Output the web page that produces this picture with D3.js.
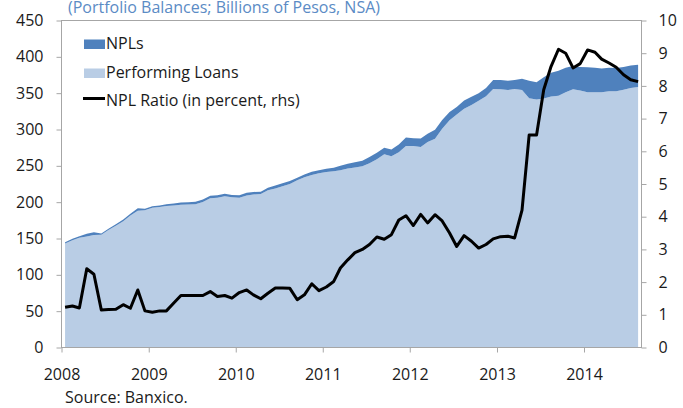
<!DOCTYPE html>
<html>
<head>
<meta charset="utf-8">
<script src="https://cdn.jsdelivr.net/npm/d3@7"></script>
<style>
  body { margin: 0; background: #fff; }
  text { font-family: "Open Sans", "Noto Sans", sans-serif; fill: #1a1a1a; }
  .axis path { display: none; }
  .axis line { stroke: #a6a6a6; }
</style>
</head>
<body>
<div class="chart"></div>
<script>
var w = 683,
  h = 408;

// monthly, Jan 2008 .. Aug 2014
var firstMonth = new Date(2008, 0, 1),
  lastMonth = new Date(2014, 7, 1);

// billions of pesos
var performing = [143.2, 147.6, 151.1, 152.7, 154.9, 155.2, 161.6, 167.5, 173.7, 181.8, 188.1, 188.9,
  192.4, 193.3, 194.8, 195.3, 196.3, 196.8, 197.3, 200.3, 205.4, 206.2, 208.1, 206.8,
  206.0, 209.3, 210.6, 211.3, 216.3, 218.9, 221.9, 224.9, 230.1, 234.2, 237.3, 239.8,
  241.4, 242.5, 243.9, 246.2, 247.6, 249.3, 253.7, 258.9, 265.9, 263.1, 268.6, 277.4,
  277.3, 275.8, 282.8, 287.3, 300.9, 312.7, 320.8, 328.4, 333.8, 339.4, 345.8, 355.8,
  355.5, 354.5, 355.7, 354.5, 343.1, 341.3, 342.7, 345.5, 346.3, 351.4, 355.4, 353.5,
  351.4, 351.2, 351.1, 352.5, 352.5, 354.8, 357.2, 358.4];

var npls = [1.8, 1.9, 1.9, 3.8, 3.6, 1.8, 1.9, 2.0, 2.3, 2.2, 3.4, 2.1,
  2.1, 2.2, 2.2, 2.7, 3.2, 3.2, 3.2, 3.2, 3.6, 3.3, 3.4, 3.2,
  3.5, 3.7, 3.4, 3.2, 3.7, 4.1, 4.1, 4.1, 3.4, 3.8, 4.7, 4.2,
  4.6, 5.0, 6.1, 6.8, 7.4, 7.7, 8.3, 9.1, 9.1, 9.4, 10.9, 11.6,
  10.7, 11.7, 11.2, 12.2, 12.1, 11.3, 10.2, 11.6, 11.2, 10.6, 11.2, 12.2,
  12.5, 12.5, 12.3, 15.5, 23.9, 23.7, 29.3, 32.5, 34.7, 33.6, 32.1, 32.5,
  34.1, 33.8, 32.9, 32.5, 32.0, 31.2, 30.8, 30.6];

// percent, right axis
var nplRatio = [1.23, 1.27, 1.21, 2.41, 2.24, 1.15, 1.16, 1.17, 1.31, 1.2, 1.76, 1.12,
  1.08, 1.12, 1.12, 1.36, 1.59, 1.59, 1.59, 1.59, 1.71, 1.56, 1.59, 1.51,
  1.68, 1.76, 1.61, 1.49, 1.66, 1.82, 1.82, 1.81, 1.46, 1.61, 1.95, 1.74,
  1.85, 2.02, 2.43, 2.68, 2.9, 3.0, 3.15, 3.38, 3.31, 3.45, 3.9, 4.03,
  3.73, 4.07, 3.81, 4.06, 3.87, 3.5, 3.09, 3.42, 3.25, 3.04, 3.15, 3.32,
  3.39, 3.4, 3.35, 4.2, 6.5, 6.5, 7.88, 8.6, 9.12, 9.0, 8.55, 8.68,
  9.1, 9.03, 8.82, 8.7, 8.57, 8.34, 8.19, 8.13];

var leftTicks = [0, 50, 100, 150, 200, 250, 300, 350, 400, 450],
  rightTicks = [0, 1, 2, 3, 4, 5, 6, 7, 8, 9, 10],
  yearTicks = [2008, 2009, 2010, 2011, 2012, 2013, 2014];

var title = '(Portfolio Balances; Billions of Pesos, NSA)',
  source = 'Source: Banxico.';

var plot = { left: 61.5, right: 641.5, top: 20.5, bottom: 347.5 };

var svg = d3.select('.chart')
  .append('svg')
  .attr('width', w)
  .attr('height', h);

// points sit in the middle of each month
var months = d3.timeMonth.range(firstMonth, d3.timeMonth.offset(lastMonth, 1));
var rows = months.map(function (m, i) {
  return {
    date: d3.timeDay.offset(m, 15),
    performing: performing[i],
    npl: npls[i],
    ratio: nplRatio[i]
  };
});

var x = d3.scaleTime()
  .domain([new Date(2008, 0, 1), new Date(2014, 0, 1)])
  .range([plot.left, 584]);

var yLeft = d3.scaleLinear().domain([0, 450]).range([plot.bottom, plot.top]);
var yRight = d3.scaleLinear().domain([0, 10]).range([plot.bottom, plot.top]);

var stacked = d3.stack().keys(['performing', 'npl'])(rows);
var fills = { performing: '#b9cde5', npl: '#4f81bd' };

var area = d3.area()
  .x(function (d) { return x(d.data.date); })
  .y0(function (d) { return yLeft(d[0]); })
  .y1(function (d) { return yLeft(d[1]); });

svg.selectAll('path.layer')
  .data(stacked)
  .enter()
  .append('path')
  .attr('class', 'layer')
  .attr('d', area)
  .attr('fill', function (d) { return fills[d.key]; });

// NPL ratio line on the right axis
var line = d3.line()
  .x(function (d) { return x(d.date); })
  .y(function (d) { return yRight(d.ratio); });

svg.append('path')
  .datum(rows)
  .attr('d', line)
  .attr('fill', 'none')
  .attr('stroke', '#000')
  .attr('stroke-width', 3)
  .attr('stroke-linejoin', 'round');

// plot frame
svg.append('rect')
  .attr('x', plot.left)
  .attr('y', plot.top)
  .attr('width', plot.right - plot.left)
  .attr('height', plot.bottom - plot.top)
  .attr('fill', 'none')
  .attr('stroke', '#a6a6a6');

// axes
svg.append('g')
  .attr('class', 'axis')
  .attr('transform', 'translate(' + plot.left + ',0)')
  .call(d3.axisLeft(yLeft).tickValues(leftTicks).tickSize(5).tickPadding(13))
  .selectAll('text')
  .style('font-size', '16px');

svg.append('g')
  .attr('class', 'axis')
  .attr('transform', 'translate(' + plot.right + ',0)')
  .call(d3.axisRight(yRight).tickValues(rightTicks).tickSize(5).tickPadding(12))
  .selectAll('text')
  .style('font-size', '16px');

svg.append('g')
  .attr('class', 'axis')
  .attr('transform', 'translate(0,' + plot.bottom + ')')
  .call(d3.axisBottom(x)
    .tickValues(yearTicks.map(function (y) { return new Date(y, 0, 1); }))
    .tickFormat(d3.timeFormat('%Y'))
    .tickSize(5)
    .tickPadding(16))
  .selectAll('text')
  .style('font-size', '16px');

// title (sits half off the top edge, as in the original)
svg.append('text')
  .attr('x', 68)
  .attr('y', 13)
  .style('font-size', '16px')
  .style('fill', '#5b8bc5')
  .text(title);

// legend
var legend = svg.append('g');
legend.append('rect')
  .attr('x', 84).attr('y', 39.5).attr('width', 21).attr('height', 9.5)
  .attr('fill', fills.npl);
legend.append('text').attr('x', 106).attr('y', 49)
  .style('font-size', '16px').text('NPLs');
legend.append('rect')
  .attr('x', 84).attr('y', 68.5).attr('width', 21).attr('height', 9.5)
  .attr('fill', fills.performing);
legend.append('text').attr('x', 106).attr('y', 77.5)
  .style('font-size', '16px').text('Performing Loans');
legend.append('line')
  .attr('x1', 83).attr('x2', 105).attr('y1', 98.5).attr('y2', 98.5)
  .attr('stroke', '#000').attr('stroke-width', 3);
legend.append('text').attr('x', 106).attr('y', 106)
  .style('font-size', '16px').text('NPL Ratio (in percent, rhs)');

svg.append('text')
  .attr('x', 65)
  .attr('y', 403)
  .style('font-size', '16px')
  .text(source);
</script>
</body>
</html>
